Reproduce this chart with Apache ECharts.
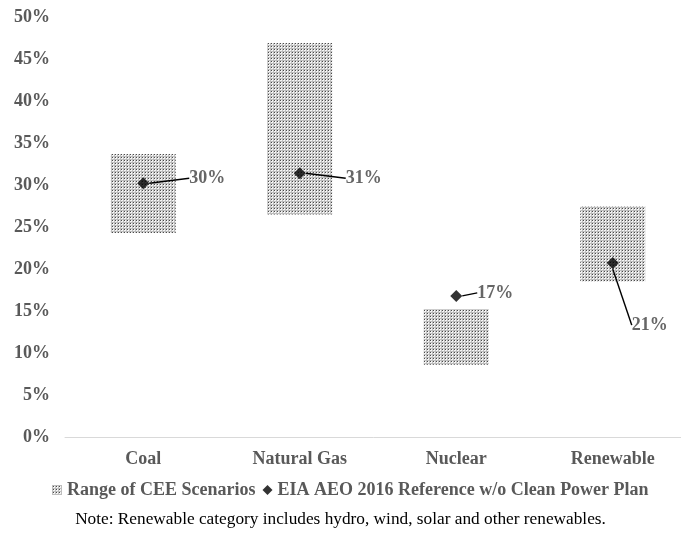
<!DOCTYPE html>
<html>
<head>
<meta charset="utf-8">
<script src="https://cdn.jsdelivr.net/npm/echarts@6/dist/echarts.min.js"></script>
<style>
html, body { margin: 0; padding: 0; background: #fff; overflow: hidden; }
#main { width: 681px; height: 534px; }
</style>
</head>
<body>
<div id="main"></div>
<script>
var categories = ['Coal', 'Natural Gas', 'Nuclear', 'Renewable'];
var rangeLow = [24.3, 26.5, 8.6, 18.5];   // bottom of CEE range (%)
var rangeHigh = [33.7, 46.9, 15.2, 27.5]; // top of CEE range (%)
var eiaRef = [30.2, 31.4, 16.8, 20.7];    // EIA AEO 2016 marker (%)
var eiaLabels = ['30%', '31%', '17%', '21%'];
var yTicks = [0, 5, 10, 15, 20, 25, 30, 35, 40, 45, 50];

// dotted fill like the excel pattern
var pat = document.createElement('canvas');
pat.width = 3; pat.height = 3;
var pc = pat.getContext('2d');
pc.fillStyle = '#f4f4f4'; pc.fillRect(0, 0, 3, 3);
pc.fillStyle = '#bdbdbd'; pc.fillRect(0, 0, 3, 1); pc.fillRect(0, 0, 1, 3);
pc.fillStyle = '#4a4a4a'; pc.fillRect(1, 1, 1, 1);

var rangeSize = rangeHigh.map(function(v, i) { return +(v - rangeLow[i]).toFixed(1); });

// label offsets (dx, dy) from marker
var labelShift = [[40, -5], [40, 5], [15, -3], [13, 62]];

var font = '"Liberation Serif", "Times New Roman", serif';
var chart = echarts.init(document.getElementById('main'));
var option = {
	backgroundColor: '#fff',
	animation: false,
	textStyle: { fontFamily: font },
	grid: { left: 65, top: 17, width: 626, height: 420, outerBoundsMode: 'none', containLabel: false },
	xAxis: {
		type: 'category',
		data: categories,
		axisLine: { lineStyle: { color: '#d9d9d9', width: 1 } },
		axisTick: { show: false },
		axisLabel: { color: '#595959', fontWeight: 'bold', fontSize: 18, fontFamily: font, margin: 13 }
	},
	yAxis: {
		type: 'value',
		min: 0, max: 50, interval: 5,
		axisLine: { show: false },
		axisTick: { show: false },
		splitLine: { show: false },
		axisLabel: {
			color: '#595959', fontWeight: 'bold', fontSize: 18, fontFamily: font, margin: 15,
			formatter: function(v) { return yTicks.indexOf(v) >= 0 ? v + '%' : ''; }
		}
	},
	legend: {
		bottom: 30,
		left: 47,
		itemGap: 7,
		itemWidth: 10,
		itemHeight: 10,
		textStyle: { color: '#595959', fontWeight: 'bold', fontSize: 18, fontFamily: font },
		data: [
			{ name: 'Range of CEE Scenarios', icon: 'rect' },
			{ name: 'EIA AEO 2016 Reference w/o Clean Power Plan', icon: 'diamond' }
		]
	},
	graphic: [{
		type: 'text',
		left: 'center',
		top: 511,
		style: {
			text: 'Note: Renewable category includes hydro, wind, solar and other renewables.',
			font: '17.3px ' + font,
			fill: '#000'
		}
	}],
	series: [
		{
			name: 'base',
			type: 'bar',
			stack: 'range',
			barWidth: 65,
			itemStyle: { color: 'transparent' },
			data: rangeLow
		},
		{
			name: 'Range of CEE Scenarios',
			type: 'bar',
			stack: 'range',
			barWidth: 65,
			itemStyle: { color: { image: pat, repeat: 'repeat' } },
			data: rangeSize
		},
		{
			name: 'EIA AEO 2016 Reference w/o Clean Power Plan',
			type: 'scatter',
			symbol: 'diamond',
			symbolSize: 12,
			itemStyle: { color: '#000' },
			label: {
				show: true,
				position: 'right',
				distance: 0,
				color: '#404040',
				fontWeight: 'bold',
				fontSize: 18,
				fontFamily: font,
				formatter: function(p) { return eiaLabels[p.dataIndex]; }
			},
			labelLine: { show: true, lineStyle: { color: '#000', width: 1.5 } },
			labelLayout: function(p) {
				var s = labelShift[p.dataIndex];
				return { dx: s[0], dy: s[1] };
			},
			data: eiaRef
		}
	]
};
chart.setOption(option);
</script>
</body>
</html>
